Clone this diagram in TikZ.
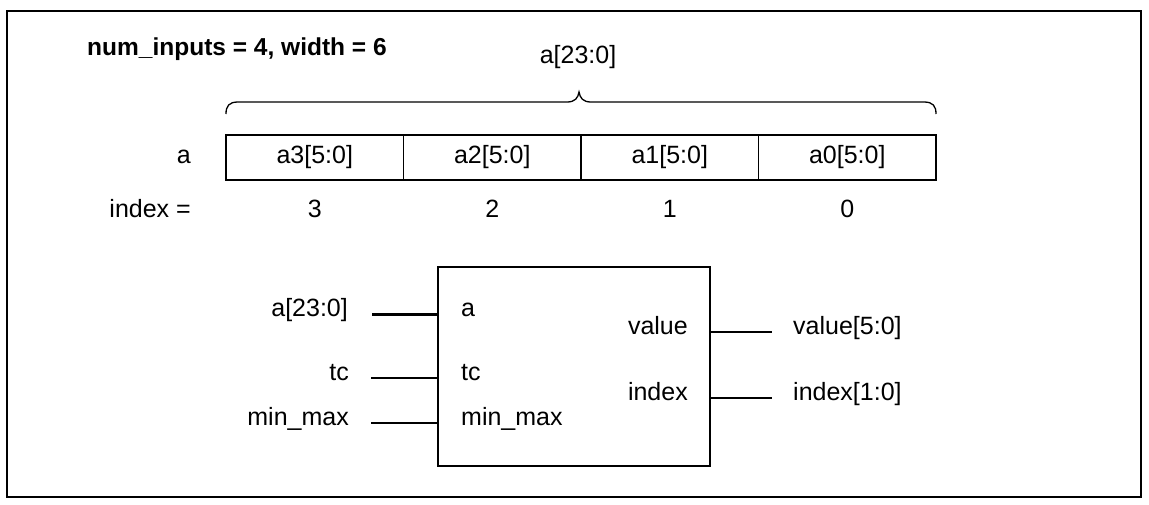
\documentclass[tikz,border=0pt]{standalone}
\usepackage{fontspec}
\setmainfont{Liberation Sans}
\begin{document}
\begin{tikzpicture}[x=1pt,y=-1pt,
  lbl/.style={inner sep=0pt, font=\fontsize{25}{29}\selectfont},
  title/.style={inner sep=0pt, font=\fontsize{24.5}{29}\selectfont\bfseries},
  frameline/.style={line width=1.8pt},
  cell/.style={draw, line width=1.6pt, minimum width=177.5pt, minimum height=45pt, inner sep=0pt, font=\fontsize{25}{29}\selectfont},
  modbox/.style={draw, line width=1.5pt, minimum width=272pt, minimum height=199pt, inner sep=0pt},
  thinwire/.style={line width=1.1pt},
  thickwire/.style={line width=3pt},
  midwire/.style={line width=2.6pt},
  bracepath/.style={line width=1.3pt}]
\useasboundingbox (0,0) rectangle (1149,504);
\draw[frameline] (7,11) rectangle (1141,497);

% header
\node[title, anchor=mid west] (hdr) at (87,53) {num\_inputs = 4, width = 6};
\node[lbl, anchor=mid] (bus) at (578,61) {a[23:0]};

% brace
\coordinate (bl) at (226,114);
\coordinate (br) at (936,114);
\coordinate (bt) at (579,92);
\draw[bracepath] (bl) .. controls (226,106) and (229,102) .. (238,102) -- (567,102)
  .. controls (575,102) and (578,98) .. (bt)
  .. controls (580,98) and (583,102) .. (591,102) -- (924,102)
  .. controls (933,102) and (936,106) .. (br);

% register
\node[lbl, anchor=mid east] (alabel) at (191,161) {a};
\node[cell] (c3) at (314.75,157.5) {a3[5:0]};
\node[cell] (c2) at (492.25,157.5) {a2[5:0]};
\node[cell] (c1) at (669.75,157.5) {a1[5:0]};
\node[cell] (c0) at (847.25,157.5) {a0[5:0]};

% index row
\node[lbl, anchor=mid east] (ilabel) at (191,215) {index =};
\node[lbl, anchor=mid] (i3) at (314.75,215) {3};
\node[lbl, anchor=mid] (i2) at (492.25,215) {2};
\node[lbl, anchor=mid] (i1) at (669.75,215) {1};
\node[lbl, anchor=mid] (i0) at (847.25,215) {0};

% module
\node[modbox] (mod) at (574,366.5) {};

% inner port labels
\node[lbl, anchor=mid west] (pa) at (461,314) {a};
\node[lbl, anchor=mid west] (ptc) at (461,378) {tc};
\node[lbl, anchor=mid west] (pmm) at (461,423) {min\_max};
\node[lbl, anchor=mid east] (pv) at (688,332) {value};
\node[lbl, anchor=mid east] (pi) at (688,398) {index};

% outer signal labels
\node[lbl, anchor=mid east] (sa) at (348,314) {a[23:0]};
\node[lbl, anchor=mid east] (stc) at (349,378) {tc};
\node[lbl, anchor=mid east] (smm) at (349,423) {min\_max};
\node[lbl, anchor=mid west] (sv) at (793,332) {value[5:0]};
\node[lbl, anchor=mid west] (si) at (793,398) {index[1:0]};

% wires
\coordinate (wa) at (372,314);
\coordinate (wtc) at (371,378);
\coordinate (wmm) at (371,423);
\coordinate (wv) at (772,332);
\coordinate (wi) at (772,398);
\draw[thickwire] (wa) -- (wa -| mod.west);
\draw[thinwire] (wtc) -- (wtc -| mod.west);
\draw[thinwire] (wmm) -- (wmm -| mod.west);
\draw[midwire] (wv -| mod.east) -- (wv);
\draw[midwire] (wi -| mod.east) -- (wi);
\end{tikzpicture}
\end{document}
